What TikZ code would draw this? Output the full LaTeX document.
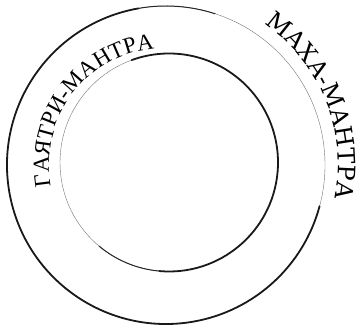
\documentclass[tikz,border=0pt]{standalone}
\usepackage{fontspec}
\usepackage{tikz}
\usetikzlibrary{decorations.text}
\newfontfamily\ringserif{Liberation Serif}
\newfontfamily\ringslab{DejaVu Serif}
\newcommand{\gayfont}{\ringserif\fontsize{23pt}{23pt}\selectfont}
\newcommand{\mahafont}{\ringslab\fontsize{24pt}{24pt}\selectfont}

\begin{document}
\begin{tikzpicture}[
  ringthin/.style={draw=black!55, line width=0.4pt},
  ringthick/.style={draw=black!90, line width=1.8pt, line cap=round},
  ringmid/.style={draw=black!85, line width=1pt, line cap=round}]
  \useasboundingbox (0,0) rectangle (364pt,331pt);
  \coordinate (oc) at (166pt,166pt);
  \coordinate (ic) at (169pt,168.5pt);
  % outer ring
  \draw[ringthin] (oc) circle[radius=159pt];
  \draw[ringthick] ([shift={(100:159pt)}]oc) arc[start angle=100, end angle=345, radius=159pt];
  \draw[ringmid] ([shift={(72:159pt)}]oc) arc[start angle=72, end angle=100, radius=159pt];
  % inner ring
  \draw[ringthin] (ic) circle[radius=109pt];
  \draw[ringthick] ([shift={(-95:109pt)}]ic) arc[start angle=-95, end angle=110, radius=109pt];
  \draw[ringmid] ([shift={(-130:109pt)}]ic) arc[start angle=-130, end angle=-95, radius=109pt];
  % labels
  \path[decorate, decoration={text along path, text align=center,
      text={|\gayfont|ГАЯТРИ-МАНТРА}}]
    ([shift={(205:117pt)}]oc) arc[start angle=205, end angle=81, radius=117pt];
  \path[decorate, decoration={text along path, text align=center,
      text={|\mahafont|МАХА-МАНТРА}}]
    ([shift={(74:172pt)}]oc) arc[start angle=74, end angle=-30, radius=172pt];
\end{tikzpicture}
\end{document}
